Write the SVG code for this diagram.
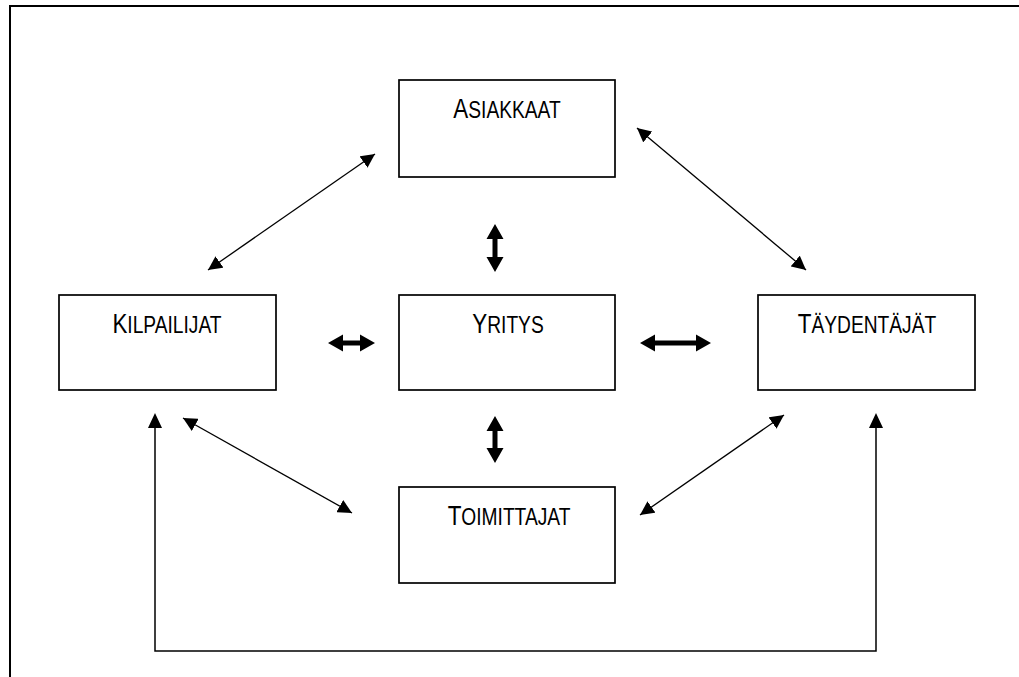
<svg xmlns="http://www.w3.org/2000/svg" width="1019" height="677" viewBox="0 0 1019 677">
  <style>
    .box { fill: #fff; stroke: #000; stroke-width: 1.7; }
    .lbl { font-family: "Liberation Sans", Arial, sans-serif; fill: #000; text-anchor: middle; font-size: 24px; }
    .cap { font-size: 28px; }
    .thin { stroke: #000; stroke-width: 1.3; fill: none; marker-start: url(#hs); marker-end: url(#he); }
    .thick { stroke: #000; stroke-width: 5; fill: none; }
  </style>
  <defs>
    <marker id="he" viewBox="0 0 14 14" refX="14" refY="7" markerWidth="14" markerHeight="14" markerUnits="userSpaceOnUse" orient="auto">
      <path d="M0,0 L14,7 L0,14 z" fill="#000"/>
    </marker>
    <marker id="hs" viewBox="0 0 14 14" refX="0" refY="7" markerWidth="14" markerHeight="14" markerUnits="userSpaceOnUse" orient="auto">
      <path d="M14,0 L0,7 L14,14 z" fill="#000"/>
    </marker>
  </defs>

  <rect width="1019" height="677" fill="#fff"/>
  <!-- page frame: only the top and left edges fall inside the view -->
  <path d="M10,677 L10,6 L1019,6" fill="none" stroke="#000" stroke-width="2"/>

  <g id="asiakkaat">
    <rect class="box" x="399" y="80" width="216" height="97"/>
    <text class="lbl" transform="translate(507,118) scale(0.8,1)"><tspan class="cap">A</tspan>SIAKKAAT</text>
  </g>
  <g id="kilpailijat">
    <rect class="box" x="59" y="295" width="217" height="95"/>
    <text class="lbl" transform="translate(167,333) scale(0.8,1)"><tspan class="cap">K</tspan>ILPAILIJAT</text>
  </g>
  <g id="yritys">
    <rect class="box" x="399" y="295" width="216" height="95"/>
    <text class="lbl" transform="translate(508,333) scale(0.8,1)"><tspan class="cap">Y</tspan>RITYS</text>
  </g>
  <g id="taydentajat">
    <rect class="box" x="758" y="295" width="217" height="95"/>
    <text class="lbl" transform="translate(867,333) scale(0.8,1)"><tspan class="cap">T</tspan>ÄYDENTÄJÄT</text>
  </g>
  <g id="toimittajat">
    <rect class="box" x="399" y="487" width="216" height="96"/>
    <text class="lbl" transform="translate(509,525) scale(0.8,1)"><tspan class="cap">T</tspan>OIMITTAJAT</text>
  </g>

  <g id="connectors">
    <line class="thin" x1="375" y1="154" x2="208" y2="270"/>
    <line class="thin" x1="637" y1="128" x2="806" y2="270"/>
    <line class="thin" x1="352" y1="513" x2="183" y2="418"/>
    <line class="thin" x1="784" y1="415" x2="640" y2="515"/>
    <polyline stroke="#000" stroke-width="1.5" fill="none" points="155,428 155,651 876,651 876,423"/>
    <path d="M155,413 L148,428 L162,428 z" fill="#000"/>
    <path d="M876,413 L869,428 L883,428 z" fill="#000"/>

    <!-- bold two-way arrows around the centre box -->
    <line class="thick" x1="495" y1="238" x2="495" y2="258"/>
    <path d="M495,224 L486.5,239 L503.5,239 z M495,272 L486.5,257 L503.5,257 z" fill="#000"/>
    <line class="thick" x1="495" y1="430" x2="495" y2="450"/>
    <path d="M495,416 L486.5,431 L503.5,431 z M495,463 L486.5,448 L503.5,448 z" fill="#000"/>
    <line class="thick" x1="342" y1="343" x2="361" y2="343"/>
    <path d="M328,343 L343,334.5 L343,351.5 z M375,343 L360,334.5 L360,351.5 z" fill="#000"/>
    <line class="thick" x1="654" y1="343" x2="697" y2="343"/>
    <path d="M640,343 L655,334.5 L655,351.5 z M711,343 L696,334.5 L696,351.5 z" fill="#000"/>
  </g>
</svg>
